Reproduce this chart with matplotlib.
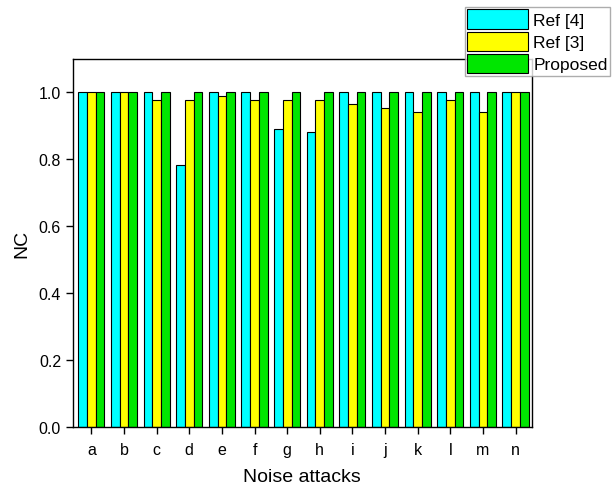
import matplotlib
matplotlib.use("Agg")
import matplotlib.pyplot as plt
import numpy as np

plt.rcParams['font.family'] = ['Liberation Sans', 'DejaVu Sans']

categories = ['a', 'b', 'c', 'd', 'e', 'f', 'g', 'h', 'i', 'j', 'k', 'l', 'm', 'n']
ref4 = [1.0, 1.0, 1.0, 0.78, 1.0, 1.0, 0.89, 0.88, 1.0, 1.0, 1.0, 1.0, 1.0, 1.0]
ref3 = [1.0, 1.0, 0.976, 0.976, 0.988, 0.976, 0.976, 0.976, 0.964, 0.951, 0.939, 0.976, 0.939, 1.0]
proposed = [1.0] * 14
series_names = ['Ref [4]', 'Ref [3]', 'Proposed']
colors = ['#00FFFF', '#FFFF00', '#00E600']

fig = plt.figure(figsize=(6.12, 4.89), dpi=100)
ax = fig.add_axes([0.119, 0.125, 0.75, 0.752])

x = np.arange(len(categories))
w = 0.267
for i, (vals, name, c) in enumerate(zip([ref4, ref3, proposed], series_names, colors)):
    ax.bar(x + (i - 1) * w, vals, width=w, color=c, edgecolor='black', linewidth=0.8, label=name)

ax.set_xlim(-0.57, 13.5)
ax.set_ylim(0, 1.097)
ax.set_yticks(np.arange(0, 1.01, 0.2))
ax.set_yticklabels([f'{v:.1f}' for v in np.arange(0, 1.01, 0.2)])
ax.set_xticks(x)
ax.set_xticklabels(categories)
ax.tick_params(axis='both', direction='out', labelsize=11.5, length=5, width=1)
ax.tick_params(axis='x', pad=6)
ax.set_xlabel('Noise attacks', fontsize=14, labelpad=8)
ax.set_ylabel('NC', fontsize=14, labelpad=6)
for s in ax.spines.values():
    s.set_linewidth(1)

leg = ax.legend(loc='upper right', bbox_to_anchor=(0.997, 0.984), bbox_transform=fig.transFigure,
                fontsize=12.5, frameon=True, fancybox=False, edgecolor='#999999',
                handlelength=3.5, handleheight=1.35, handletextpad=0.3, labelspacing=0.15,
                borderpad=0.15, borderaxespad=0)
leg.get_frame().set_linewidth(1)

fig.savefig('out.png', dpi=100)
